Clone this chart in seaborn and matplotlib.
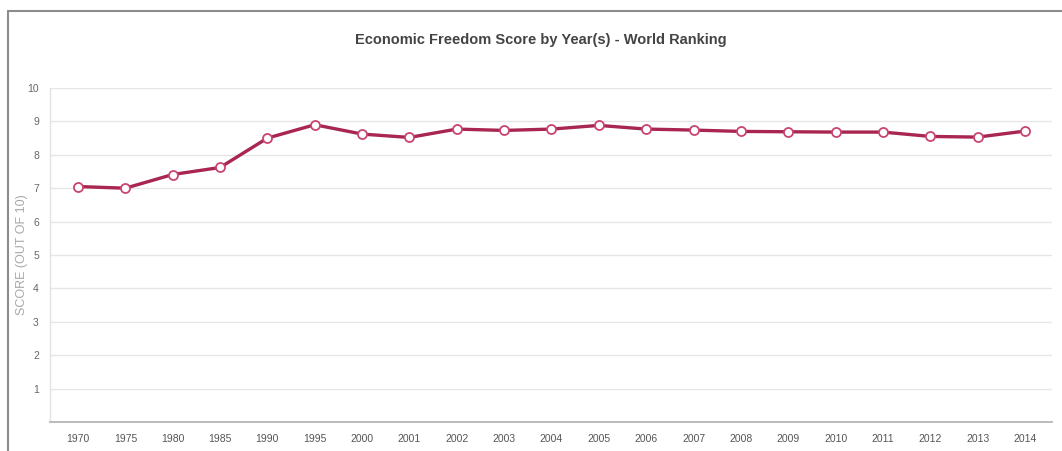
import matplotlib
matplotlib.use("Agg")
import matplotlib.pyplot as plt
from matplotlib.lines import Line2D
import seaborn as sns
import pandas as pd

years = ["1970", "1975", "1980", "1985", "1990", "1995", "2000", "2001", "2002",
         "2003", "2004", "2005", "2006", "2007", "2008", "2009", "2010", "2011",
         "2012", "2013", "2014"]
scores = [7.05, 7.00, 7.41, 7.62, 8.50, 8.90, 8.62, 8.52, 8.77, 8.73, 8.77,
          8.88, 8.77, 8.74, 8.70, 8.69, 8.68, 8.68, 8.55, 8.53, 8.71]
y_ticks = [1, 2, 3, 4, 5, 6, 7, 8, 9, 10]

title = "Economic Freedom Score by Year(s) - World Ranking"
y_label = "SCORE (OUT OF 10)"

sns.set_theme(style="white")
plt.rcParams["font.family"] = ["Liberation Sans", "DejaVu Sans"]

W, H = 1062, 451
fig = plt.figure(figsize=(W / 100, H / 100), dpi=100)
fig.patch.set_facecolor("white")

# plot area in pixel terms
left_px, right_px, top_px, bottom_px = 50, 1052, 88, 422
ax = fig.add_axes([left_px / W, 1 - bottom_px / H,
                   (right_px - left_px) / W, (bottom_px - top_px) / H])

df = pd.DataFrame({"year": years, "score": scores})
df["pos"] = range(len(years))

sns.lineplot(data=df, x="pos", y="score", ax=ax, color="#a8264f",
             linewidth=2.4, marker="o", markersize=6.5,
             markerfacecolor="white", markeredgecolor="#c8456f",
             markeredgewidth=1.3, zorder=3)

ax.set_xlim(-0.591, 20.57)
ax.set_ylim(0, 10)
ax.set_xticks(df["pos"])
ax.set_xticklabels(years)
ax.set_yticks(y_ticks)
ax.set_yticklabels([str(t) for t in y_ticks])

ax.grid(axis="y", color="#e6e6e6", linewidth=1.0)
ax.grid(axis="x", visible=False)
ax.set_axisbelow(True)

for s in ["top", "right"]:
    ax.spines[s].set_visible(False)
ax.spines["left"].set_color("#e2e2e2")
ax.spines["left"].set_linewidth(1.0)
ax.spines["bottom"].set_color("#b5b5b5")
ax.spines["bottom"].set_linewidth(1.3)

ax.tick_params(axis="x", length=0, pad=9, labelsize=7.5, labelcolor="#555555")
ax.tick_params(axis="y", length=0, pad=8, labelsize=7.5, labelcolor="#666666")

ax.set_xlabel("")
ax.set_ylabel("")
fig.text(22 / W, 1 - 255 / H, y_label, rotation=90, ha="center", va="center",
         fontsize=9, color="#a8a8a8")

fig.text(541 / W, 1 - 40 / H, title, ha="center", va="center",
         fontsize=10.5, color="#444444", fontweight="bold")

# outer frame of the panel
fig.add_artist(Line2D([8 / W, 1.0], [1 - 11 / H, 1 - 11 / H],
                      transform=fig.transFigure, color="#8c8c8c", linewidth=1.5))
fig.add_artist(Line2D([8 / W, 8 / W], [0.0, 1 - 11 / H],
                      transform=fig.transFigure, color="#8c8c8c", linewidth=1.5))

fig.savefig("out.png", dpi=100, facecolor="white")
